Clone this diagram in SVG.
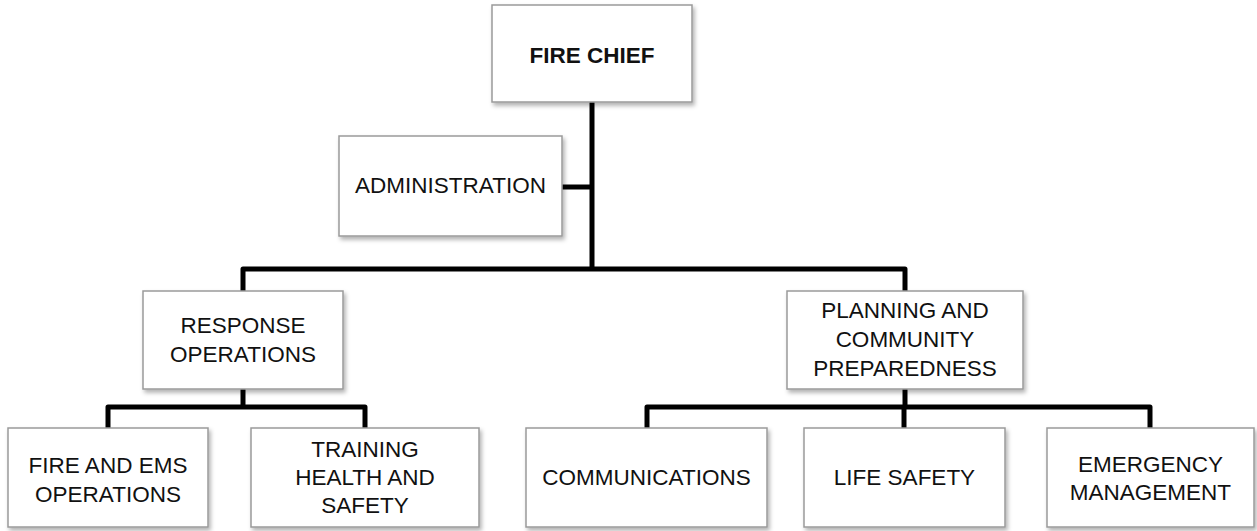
<svg xmlns="http://www.w3.org/2000/svg" width="1257" height="531" viewBox="0 0 1257 531">
<defs>
<filter id="sh" x="-10%" y="-10%" width="125%" height="130%">
<feDropShadow dx="2" dy="3" stdDeviation="2" flood-color="#000" flood-opacity="0.3"/>
</filter>
<style>
.box{fill:#fff;stroke:#9a9a9a;stroke-width:1.5;filter:url(#sh)}
.t{font-family:"Liberation Sans",Arial,sans-serif;font-size:22.5px;fill:#111;text-anchor:middle}
.b{font-weight:bold}
.ln{fill:none;stroke:#000;stroke-width:5;stroke-linejoin:round}
</style>
</defs>
<rect width="1257" height="531" fill="#fff"/>
<g id="connectors">
<path class="ln" d="M592,102 V269"/>
<path class="ln" d="M562,187 H592"/>
<path class="ln" d="M243,291 V269 H905 V291"/>
<path class="ln" d="M243,389 V407"/>
<path class="ln" d="M108,428 V407 H365 V428"/>
<path class="ln" d="M905,389 V407"/>
<path class="ln" d="M647,428 V407 H1150 V428"/>
<path class="ln" d="M904,407 V428"/>
</g>
<g id="fire-chief">
<rect class="box" x="492" y="5" width="200" height="97"/>
<text class="t b" x="592" y="63">FIRE CHIEF</text>
</g>
<g id="administration">
<rect class="box" x="339" y="136" width="223" height="100"/>
<text class="t" x="450.5" y="193">ADMINISTRATION</text>
</g>
<g id="response-operations">
<rect class="box" x="143" y="291" width="200" height="98"/>
<text class="t" x="243" y="333">RESPONSE</text>
<text class="t" x="243" y="362">OPERATIONS</text>
</g>
<g id="planning">
<rect class="box" x="787" y="291" width="236" height="98"/>
<text class="t" x="905" y="318">PLANNING AND</text>
<text class="t" x="905" y="347">COMMUNITY</text>
<text class="t" x="905" y="376">PREPAREDNESS</text>
</g>
<g id="fire-ems">
<rect class="box" x="8" y="428" width="200" height="99"/>
<text class="t" x="108" y="473">FIRE AND EMS</text>
<text class="t" x="108" y="502">OPERATIONS</text>
</g>
<g id="training">
<rect class="box" x="251" y="428" width="228" height="99"/>
<text class="t" x="365" y="457">TRAINING</text>
<text class="t" x="365" y="485">HEALTH AND</text>
<text class="t" x="365" y="513">SAFETY</text>
</g>
<g id="communications">
<rect class="box" x="526" y="428" width="241" height="99"/>
<text class="t" x="646.5" y="485">COMMUNICATIONS</text>
</g>
<g id="life-safety">
<rect class="box" x="804" y="428" width="201" height="99"/>
<text class="t" x="904.5" y="485">LIFE SAFETY</text>
</g>
<g id="emergency-management">
<rect class="box" x="1047" y="428" width="207" height="99"/>
<text class="t" x="1150.5" y="472">EMERGENCY</text>
<text class="t" x="1150.5" y="500">MANAGEMENT</text>
</g>
</svg>
